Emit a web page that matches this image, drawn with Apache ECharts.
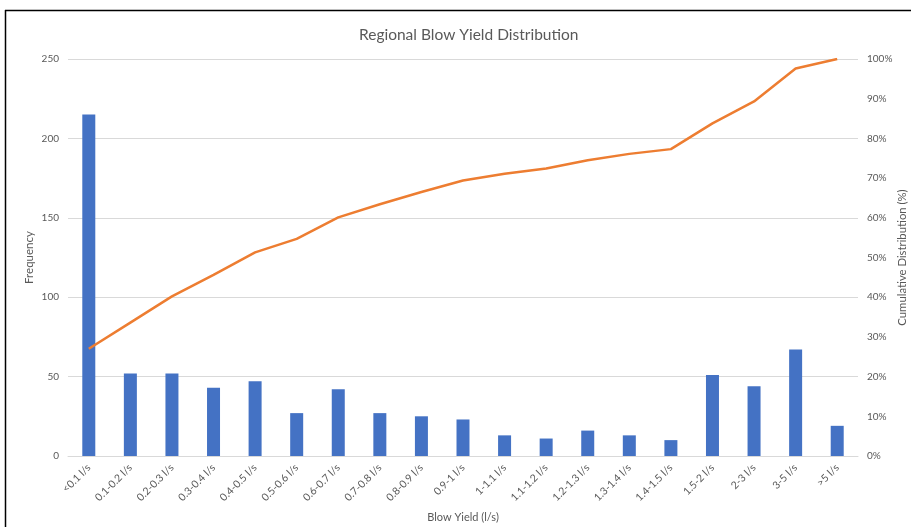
<!DOCTYPE html>
<html>
<head>
<meta charset="utf-8">
<script src="https://cdn.jsdelivr.net/npm/echarts@6/dist/echarts.min.js"></script>
<style>
  html, body { margin: 0; padding: 0; background: #fff; }
  #main { width: 911px; height: 527px; }
</style>
</head>
<body>
<div id="main"></div>
<script>
// bins of blow yield
var categories = ['<0.1 l/s', '0.1-0.2 l/s', '0.2-0.3 l/s', '0.3-0.4 l/s', '0.4-0.5 l/s', '0.5-0.6 l/s',
  '0.6-0.7 l/s', '0.7-0.8 l/s', '0.8-0.9 l/s', '0.9-1 l/s', '1-1.1 l/s', '1.1-1.2 l/s', '1.2-1.3 l/s',
  '1.3-1.4 l/s', '1.4-1.5 l/s', '1.5-2 l/s', '2-3 l/s', '3-5 l/s', '>5 l/s']
// frequency (left axis)
var frequency = [215, 52, 52, 43, 47, 27, 42, 27, 25, 23, 13, 11, 16, 13, 10, 51, 44, 67, 19]
// cumulative distribution in % (right axis)
var cumulative = [27, 33.6, 40.2, 45.6, 51.3, 54.7, 60.1, 63.4, 66.5, 69.4, 71.1, 72.4, 74.5, 76.1, 77.3, 83.8, 89.3, 97.6, 100]

var textColor = '#595959'
var gridColor = '#d9d9d9'
var font = 'Lato'

var myChart = echarts.init(document.getElementById('main'))
var option = {
  animation: false,
  textStyle: { fontFamily: font },
  title: {
    text: 'Regional Blow Yield Distribution',
    left: 354,
    top: 22,
    textStyle: { fontFamily: font, fontSize: 15.5, fontWeight: 'normal', color: textColor }
  },
  graphic: [
    { type: 'line', shape: { x1: 5, y1: 10.5, x2: 911, y2: 10.5 }, style: { stroke: '#000', lineWidth: 1.5 } },
    { type: 'line', shape: { x1: 5.5, y1: 10, x2: 5.5, y2: 527 }, style: { stroke: '#000', lineWidth: 1.5 } }
  ],
  grid: { left: 68, right: 53, top: 59, bottom: 71, outerBoundsMode: 'none', containLabel: false },
  xAxis: {
    type: 'category',
    data: categories,
    name: 'Blow Yield (l/s)',
    nameLocation: 'middle',
    nameGap: 56,
    nameMoveOverlap: false,
    nameTextStyle: { fontFamily: font, fontSize: 11, color: textColor },
    axisLine: { lineStyle: { color: gridColor } },
    axisTick: { show: false },
    axisLabel: { rotate: 45, interval: 0, fontSize: 10.5, color: textColor, margin: 10, fontFamily: font }
  },
  yAxis: [
    {
      type: 'value',
      min: 0,
      max: 250,
      interval: 50,
      name: 'Frequency',
      nameLocation: 'middle',
      nameGap: 33,
      nameRotate: 90,
      nameMoveOverlap: false,
      nameTextStyle: { fontFamily: font, fontSize: 11.5, color: textColor },
      axisLabel: { fontSize: 10, color: textColor, margin: 9, fontFamily: font },
      splitLine: { lineStyle: { color: gridColor } },
      axisLine: { show: false },
      axisTick: { show: false }
    },
    {
      type: 'value',
      min: 0,
      max: 100,
      interval: 10,
      name: 'Cumulative Distribution (%)',
      nameLocation: 'middle',
      nameGap: 39,
      nameRotate: 90,
      nameMoveOverlap: false,
      nameTextStyle: { fontFamily: font, fontSize: 11.3, color: textColor },
      axisLabel: { fontSize: 10, color: textColor, margin: 9, fontFamily: font, formatter: '{value}%' },
      splitLine: { show: false },
      axisLine: { show: false },
      axisTick: { show: false }
    }
  ],
  series: [
    {
      name: 'Frequency',
      type: 'bar',
      data: frequency,
      barWidth: 13,
      itemStyle: { color: '#4472c4' }
    },
    {
      name: 'Cumulative',
      type: 'line',
      yAxisIndex: 1,
      data: cumulative,
      showSymbol: false,
      symbol: 'none',
      lineStyle: { color: '#ed7d31', width: 2.5 }
    }
  ]
}
myChart.setOption(option)
</script>
</body>
</html>
